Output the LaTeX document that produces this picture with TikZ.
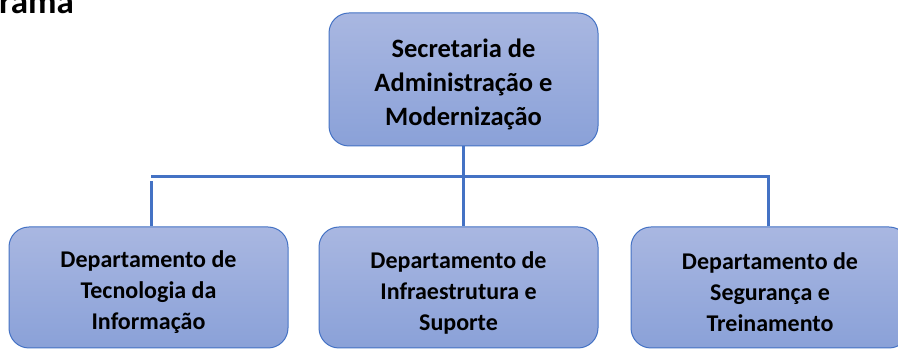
\documentclass[tikz,border=0pt]{standalone}
\usepackage{fontspec}
\setmainfont{Carlito}
\definecolor{acc}{HTML}{4472C4}
\definecolor{boxtop}{HTML}{A9B7E1}
\definecolor{boxbot}{HTML}{8AA1D8}
\tikzset{
  orgbox/.style={draw=acc, line width=1pt, rounded corners=20pt, top color=boxtop, bottom color=boxbot,
    inner sep=0pt},
  bigtext/.style={align=center, inner sep=0pt, font=\bfseries\fontsize{26.5}{34}\selectfont},
  smalltext/.style={align=center, inner sep=0pt, font=\bfseries\fontsize{24}{31}\selectfont},
  conn/.style={draw=acc, line width=3pt}
}
\begin{document}
\begin{tikzpicture}[x=1pt,y=-1pt]
\clip (0,0) rectangle (898,352);
\useasboundingbox (0,0) rectangle (898,352);
\node[anchor=base west, inner sep=0pt, font=\bfseries\fontsize{35}{40}\selectfont] (title) at (-1,13.5) {rama};
\node[orgbox, minimum width=269pt, minimum height=133pt] (top) at (463.5,79.5) {};
\node[bigtext] (toptxt) at ([yshift=-5pt]top.center) {Secretaria de\\Administração e\\Modernização};
\node[orgbox, minimum width=279pt, minimum height=121pt] (d1) at (148.5,287.5) {};
\node[smalltext] (d1txt) at ([yshift=-5pt]d1.center) {Departamento de\\Tecnologia da\\Informação};
\node[orgbox, minimum width=279pt, minimum height=121pt] (d2) at (458.5,287.5) {};
\node[smalltext] (d2txt) at ([yshift=-5pt]d2.center) {Departamento de\\Infraestrutura e\\Suporte};
\node[orgbox, minimum width=278pt, minimum height=121pt] (d3) at (770,287.5) {};
\node[smalltext] (d3txt) at ([yshift=-5pt]d3.center) {Departamento de\\Segurança e\\Treinamento};
\coordinate (j1) at (151,177);
\coordinate (j1b) at (151,181.5);
\coordinate (j2) at (463,177);
\coordinate (j3) at (768,177);
\draw[conn] (j2 |- top.south) -- (j2);
\draw[conn] (j1) -- (j3) -- (j3 |- d3.north);
\draw[conn] (j1b) -- (j1b |- d1.north);
\draw[conn] (j2) -- (j2 |- d2.north);
\end{tikzpicture}
\end{document}
